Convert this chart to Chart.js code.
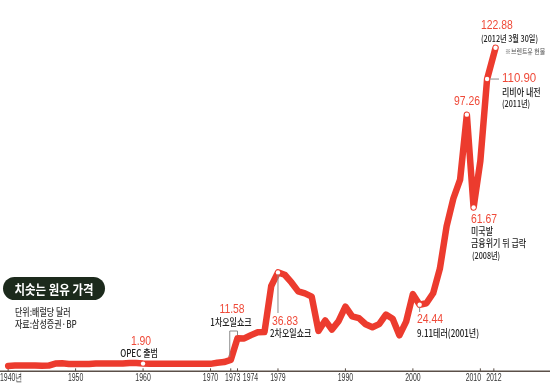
<!DOCTYPE html>
<html><head><meta charset="utf-8">
<script src="https://cdn.jsdelivr.net/npm/chart.js@4.4.0/dist/chart.umd.min.js"></script>
<style>html,body{margin:0;padding:0;background:#fff;}canvas{display:block;}</style>
</head><body>
<canvas id="c" width="550" height="392"></canvas>
<script>
// ---- data (labelled points as printed) ----
const years = [1940,1941,1942,1943,1944,1945,1946,1947,1948,1949,
  1950,1951,1952,1953,1954,1955,1956,1957,1958,1959,
  1960,1961,1962,1963,1964,1965,1966,1967,1968,1969,
  1970,1971,1972,1973,1974,1975,1976,1977,1978,1979,
  1980,1981,1982,1983,1984,1985,1986,1987,1988,1989,
  1990,1991,1992,1993,1994,1995,1996,1997,1998,1999,
  2000,2001,2002,2003,2004,2005,2006,2007,2008,2009,
  2010,2011,2012.25];
const prices = [1.02,1.14,1.19,1.20,1.21,1.05,1.12,1.90,1.99,1.78,
  1.71,1.71,1.71,1.93,1.93,1.93,1.93,1.90,2.08,2.08,
  1.90,1.80,1.80,1.80,1.80,1.80,1.80,1.80,1.80,1.80,
  1.80,2.24,2.48,3.29,11.58,11.53,12.80,13.92,14.02,31.61,
  36.83,35.93,32.97,29.55,28.78,27.56,14.43,18.44,14.92,18.23,
  23.73,20.00,19.32,16.97,15.82,17.02,20.67,19.09,12.72,17.97,
  28.50,24.44,25.02,28.83,38.27,54.52,65.14,72.39,97.26,61.67,
  79.50,110.90,122.88];
const markedYears = [1960,1980,2001,2008,2009,2011,2012.25];
const tickYears = [1940,1950,1960,1970,1973,1974,1980,1990,2000,2010,2012];
const tickLabels = ['1940년','1950','1960','1970','1973','1974','1979','1990','2000','2010','2012'];
const titleText = '치솟는 원유 가격';
const unitText = '단위:배럴당 달러';
const sourceText = '자료:삼성증권·BP';

const RED = '#ec3b2e';
const RED_TXT = '#ef4a39';
const NUM = "13.5px 'Liberation Sans','DejaVu Sans',sans-serif";
const NUM_SX = 0.77;
const KR = "500 10px 'Noto Sans CJK KR','Noto Sans',sans-serif";
const KR_S = "500 9px 'Noto Sans CJK KR','Noto Sans',sans-serif";
const KR_SX = 0.8;
const AX = "10.5px 'Liberation Sans','DejaVu Sans',sans-serif";
const AX_SX = 0.66;
const PX_PER_YEAR = 6.8, PX_PER_USD = 2.64, ZERO_Y = 370.5;

function txt(ctx, s, x, y, font, color, align, sx) {
  ctx.save();
  ctx.font = font; ctx.fillStyle = color; ctx.textBaseline = 'middle';
  ctx.textAlign = align || 'left';
  ctx.translate(x, y); ctx.scale(sx || 1, 1);
  ctx.fillText(s, 0, 0);
  ctx.restore();
}
function seg(ctx, pts, color, w) {
  ctx.save(); ctx.strokeStyle = color; ctx.lineWidth = w || 1;
  ctx.beginPath(); ctx.moveTo(pts[0][0], pts[0][1]);
  for (let i = 1; i < pts.length; i++) ctx.lineTo(pts[i][0], pts[i][1]);
  ctx.stroke(); ctx.restore();
}

const axisPlugin = {
  id: 'axisPlugin',
  beforeDatasetsDraw(chart) {
    const ctx = chart.ctx, xs = chart.scales.x, ys = chart.scales.y;
    const ay = ys.getPixelForValue(0) + 2.8;
    seg(ctx, [[0, ay], [550, ay]], '#5b5049', 1.5);
    const dx = {'1973': 2, '1974': 13, '2010': -7};
    tickYears.forEach((t, i) => {
      const px = xs.getPixelForValue(t);
      seg(ctx, [[px, ay - 3], [px, ay]], '#5b5049', 1);
      const lab = tickLabels[i];
      if (i === 0) txt(ctx, lab, 0, ay + 7, AX, '#333', 'left', AX_SX);
      else txt(ctx, lab, px + (dx[lab] || 0), ay + 7, AX, '#333', 'center', AX_SX);
    });
  },
  afterDatasetsDraw(chart) {
    const ctx = chart.ctx, xs = chart.scales.x, ys = chart.scales.y;
    const P = (yr) => { const i = years.indexOf(yr); return [xs.getPixelForValue(yr), ys.getPixelForValue(prices[i])]; };
    const G = '#8a8a8a';
    // title box
    ctx.save(); ctx.fillStyle = '#1c2a1c'; ctx.beginPath();
    ctx.roundRect(3, 277, 102, 23, 11.5); ctx.fill(); ctx.restore();
    txt(ctx, titleText, 54, 289, "bold 13px 'Noto Sans CJK KR',sans-serif", '#fff', 'center', 0.88);
    txt(ctx, unitText, 15, 312, KR, '#333', 'left', KR_SX);
    txt(ctx, sourceText, 15, 324, KR, '#333', 'left', KR_SX);
    // 1960
    txt(ctx, '1.90', 141, 341, NUM, RED_TXT, 'center', NUM_SX);
    txt(ctx, 'OPEC 출범', 139, 353, KR, '#222', 'center', KR_SX);
    // 1973-74
    const a = P(1973), b = P(1974);
    seg(ctx, [[a[0] - 1, a[1] - 3], [a[0] - 1, 331], [b[0], 331], [b[0], b[1] - 3]], G, 1);
    txt(ctx, '11.58', 232, 309, NUM, RED_TXT, 'center', NUM_SX);
    txt(ctx, '1차오일쇼크', 231, 322, KR, '#222', 'center', KR_SX);
    // 1980
    const c = P(1980);
    seg(ctx, [[c[0], c[1] + 2], [c[0], 313]], G, 1);
    txt(ctx, '36.83', 272, 321, NUM, RED_TXT, 'left', NUM_SX);
    txt(ctx, '2차오일쇼크', 270, 333, KR, '#222', 'left', KR_SX);
    // 2001
    const d = P(2001);
    seg(ctx, [[d[0], d[1] + 2], [d[0], 312]], G, 1);
    txt(ctx, '24.44', 417, 319, NUM, RED_TXT, 'left', NUM_SX);
    txt(ctx, '9.11테러(2001년)', 417, 333, KR, '#222', 'left', KR_SX);
    // 2008
    txt(ctx, '97.26', 467, 101, NUM, RED_TXT, 'center', NUM_SX);
    // 2009
    txt(ctx, '61.67', 471, 219, NUM, RED_TXT, 'left', NUM_SX);
    txt(ctx, '미국발', 471, 231, KR, '#222', 'left', KR_SX);
    txt(ctx, '금융위기 뒤 급락', 471, 243, KR, '#222', 'left', KR_SX);
    txt(ctx, '(2008년)', 472, 256, KR_S, '#222', 'left', KR_SX);
    // 2011
    const e = P(2011);
    seg(ctx, [[e[0] + 3, e[1]], [499, e[1]]], G, 1);
    txt(ctx, '110.90', 502, e[1] - 1, NUM, RED_TXT, 'left', 0.85);
    txt(ctx, '리비아 내전', 502, e[1] + 13, KR, '#222', 'left', KR_SX);
    txt(ctx, '(2011년)', 502, e[1] + 25, KR_S, '#222', 'left', KR_SX);
    // 2012
    txt(ctx, '122.88', 481, 25, NUM, RED_TXT, 'left', NUM_SX);
    txt(ctx, '(2012년 3월 30일)', 481, 38.5, KR_S, '#222', 'left', KR_SX);
    txt(ctx, '※브렌트유 현물', 505, 51, "7px 'Noto Sans CJK KR',sans-serif", '#555', 'left', 0.85);
  }
};

const pts = years.map((y, i) => ({x: y, y: prices[i]}));
const radii = years.map(y => markedYears.includes(y) ? 2.2 : 0);
const xMin = 1940 - 6 / PX_PER_YEAR;

new Chart(document.getElementById('c'), {
  type: 'line',
  data: { datasets: [{
    data: pts, borderColor: RED, borderWidth: 6.5, tension: 0,
    borderCapStyle: 'round', borderJoinStyle: 'round',
    pointRadius: radii, pointBackgroundColor: '#fff', pointBorderWidth: 0,
    pointHoverRadius: 0, clip: false, fill: false
  }]},
  options: {
    responsive: false, animation: false,
    layout: { padding: 0 },
    plugins: { legend: { display: false }, tooltip: { enabled: false } },
    events: [],
    scales: {
      x: { type: 'linear', display: false, min: xMin, max: xMin + 550 / PX_PER_YEAR },
      y: { display: false, min: -(392 - ZERO_Y) / PX_PER_USD, max: ZERO_Y / PX_PER_USD }
    }
  },
  plugins: [axisPlugin]
});
</script>
</body></html>
